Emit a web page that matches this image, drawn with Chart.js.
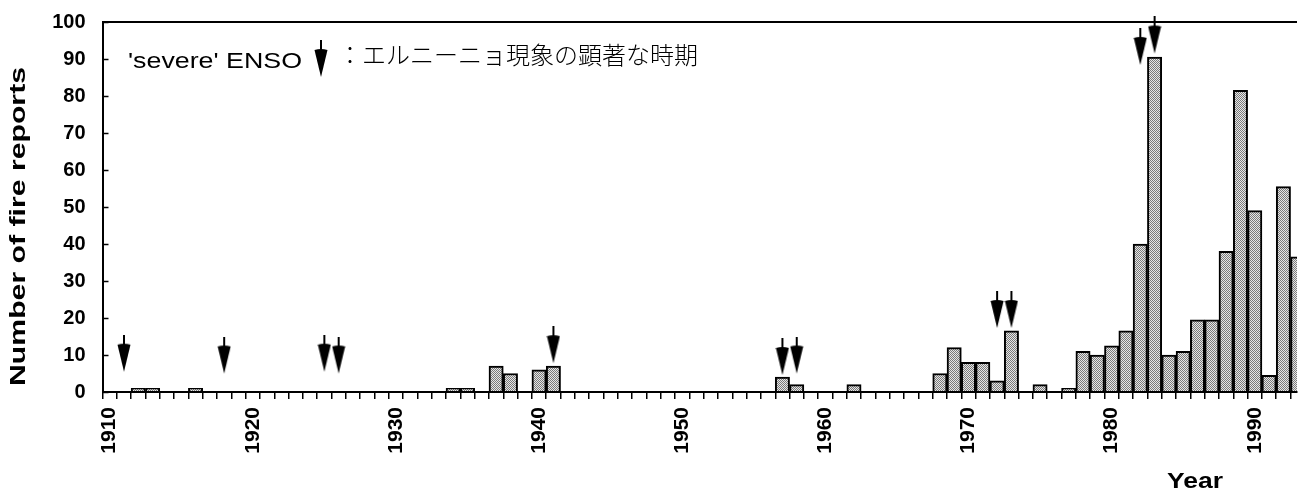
<!DOCTYPE html>
<html>
<head>
<meta charset="utf-8">
<script src="https://cdn.jsdelivr.net/npm/chart.js@4.4.1/dist/chart.umd.min.js"></script>
<style>
    html, body { margin: 0; padding: 0; background: #fff; overflow: hidden; }
    canvas { display: block; }
</style>
</head>
<body>
<canvas id="chart" width="1302" height="494"></canvas>
<script>
// Years on the x axis (one bar each)
const years = [
    1910, 1911, 1912, 1913, 1914, 1915, 1916, 1917, 1918, 1919,
    1920, 1921, 1922, 1923, 1924, 1925, 1926, 1927, 1928, 1929,
    1930, 1931, 1932, 1933, 1934, 1935, 1936, 1937, 1938, 1939,
    1940, 1941, 1942, 1943, 1944, 1945, 1946, 1947, 1948, 1949,
    1950, 1951, 1952, 1953, 1954, 1955, 1956, 1957, 1958, 1959,
    1960, 1961, 1962, 1963, 1964, 1965, 1966, 1967, 1968, 1969,
    1970, 1971, 1972, 1973, 1974, 1975, 1976, 1977, 1978, 1979,
    1980, 1981, 1982, 1983, 1984, 1985, 1986, 1987, 1988, 1989,
    1990, 1991, 1992, 1993
];

// Number of fire reports per year
const fireReports = [
    0, 0, 1, 1, 0, 0, 1, 0, 0, 0,
    0, 0, 0, 0, 0, 0, 0, 0, 0, 0,
    0, 0, 0, 0, 1, 1, 0, 7, 5, 0,
    6, 7, 0, 0, 0, 0, 0, 0, 0, 0,
    0, 0, 0, 0, 0, 0, 0, 4, 2, 0,
    0, 0, 2, 0, 0, 0, 0, 0, 5, 12,
    8, 8, 3, 16.5, 0, 2, 0, 1, 11, 10,
    12.5, 16.5, 40, 90.5, 10, 11, 19.5, 19.5, 38, 81.5,
    49, 4.5, 55.5, 36.5
];

// 'severe' ENSO years, and the height where each arrow points
const ensoYears = [1911, 1918, 1925, 1926, 1941, 1957, 1958, 1972, 1973, 1982, 1983];
const ensoArrowTips = [5.5, 5, 5.5, 5, 7.8, 4.6, 5, 17.3, 17.3, 88.4, 91.5];

// Labelled years on the x axis
const tickYears = [1910, 1920, 1930, 1940, 1950, 1960, 1970, 1980, 1990];

const FONT = "'Liberation Sans', Arial, sans-serif";
const JP_FONT = "'Noto Sans CJK JP', sans-serif";

// Down arrow; tip sits at the centre of the image
function makeArrow() {
    const c = document.createElement("canvas");
    c.width = 14;
    c.height = 74;
    const g = c.getContext("2d");
    g.fillStyle = "#000";
    g.fillRect(6, 0, 2, 11);
    g.beginPath();
    g.moveTo(0.5, 10);
    g.quadraticCurveTo(7, 8, 13.5, 10);
    g.lineTo(7, 37);
    g.closePath();
    g.fill();
    return c;
}

// Fine stippled grey fill like the printed figure
function makeStipple(ctx) {
    const c = document.createElement("canvas");
    c.width = 2;
    c.height = 2;
    const g = c.getContext("2d");
    g.fillStyle = "#e6e6e6";
    g.fillRect(0, 0, 2, 2);
    g.fillStyle = "#7a7a7a";
    g.fillRect(0, 0, 1, 1);
    g.fillRect(1, 1, 1, 1);
    return ctx.createPattern(c, "repeat");
}

// Draw text stretched to a given width
function fitText(ctx, text, x, y, width) {
    const w = ctx.measureText(text).width;
    ctx.save();
    ctx.translate(x, y);
    ctx.scale(width / w, 1);
    ctx.fillText(text, 0, 0);
    ctx.restore();
}

const arrowImg = makeArrow();

const decor = {
    id: "decor",
    afterDraw(chart) {
        const { ctx, chartArea, scales } = chart;
        ctx.save();

        // inward tick marks on the y axis
        ctx.strokeStyle = "#000";
        ctx.lineWidth = 1.5;
        scales.y.ticks.forEach(t => {
            const py = Math.round(scales.y.getPixelForValue(t.value)) + 0.5;
            ctx.beginPath();
            ctx.moveTo(chartArea.left, py);
            ctx.lineTo(chartArea.left + 6, py);
            ctx.stroke();
        });

        ctx.fillStyle = "#000";

        // y axis title
        ctx.save();
        ctx.translate(19, 227);
        ctx.rotate(-Math.PI / 2);
        ctx.font = "bold 22px " + FONT;
        ctx.textBaseline = "middle";
        fitText(ctx, "Number of fire reports", -159, 0, 319);
        ctx.restore();

        // x axis title
        ctx.font = "bold 22px " + FONT;
        ctx.textBaseline = "alphabetic";
        fitText(ctx, "Year", 1167, 488, 56);

        // legend
        ctx.font = "22px " + FONT;
        fitText(ctx, "'severe' ENSO", 128, 68, 174);
        ctx.drawImage(arrowImg, 314, 40);
        ctx.font = "300 24px " + JP_FONT;
        ctx.textBaseline = "middle";
        fitText(ctx, "：エルニーニョ現象の顕著な時期", 338, 55, 360);

        ctx.restore();
    }
};

const ctx = document.getElementById("chart").getContext("2d");
const stipple = makeStipple(ctx);

new Chart(ctx, {
    type: "bar",
    data: {
        datasets: [
            {
                type: "scatter",
                data: ensoYears.map((y, i) => ({ x: y, y: ensoArrowTips[i] })),
                pointStyle: arrowImg,
                rotation: 0,
                clip: false,
                order: 0
            },
            {
                type: "bar",
                data: years.map((y, i) => ({ x: y, y: fireReports[i] })),
                backgroundColor: stipple,
                borderColor: "#000",
                borderWidth: 2,
                borderSkipped: "start",
                barPercentage: 1,
                categoryPercentage: 1,
                order: 1
            }
        ]
    },
    options: {
        responsive: false,
        animation: false,
        events: [],
        layout: { padding: { top: 22, left: 0, right: 0, bottom: 0 } },
        plugins: {
            legend: { display: false },
            tooltip: { enabled: false }
        },
        scales: {
            x: {
                type: "linear",
                offset: false,
                min: 1909.5,
                max: 1992.95,
                afterBuildTicks: scale => {
                    scale.ticks = years.map(v => ({ value: v }));
                },
                afterFit: scale => {
                    scale.height = 102;
                    scale.paddingLeft = 0;
                    scale.paddingRight = 0;
                },
                grid: {
                    offset: true,
                    drawOnChartArea: false,
                    color: "#000",
                    tickLength: 7,
                    lineWidth: 1.5
                },
                border: { color: "#000", width: 2 },
                ticks: {
                    autoSkip: false,
                    minRotation: 90,
                    maxRotation: 90,
                    padding: 8,
                    color: "#000",
                    font: { family: FONT, size: 21, weight: "bold" },
                    callback: v => tickYears.includes(v) ? String(v) : ""
                }
            },
            y: {
                min: 0,
                max: 100,
                afterFit: scale => {
                    scale.width = 102.5;
                    scale.paddingTop = 0;
                    scale.paddingBottom = 0;
                },
                ticks: {
                    stepSize: 10,
                    padding: 17,
                    color: "#000",
                    font: { family: FONT, size: 20, weight: "bold" }
                },
                grid: {
                    drawTicks: false,
                    color: c => (c.tick && c.tick.value === 100) ? "#000" : "rgba(0,0,0,0)",
                    lineWidth: 2
                },
                border: { color: "#000", width: 2 }
            }
        }
    },
    plugins: [decor]
});
</script>
</body>
</html>
